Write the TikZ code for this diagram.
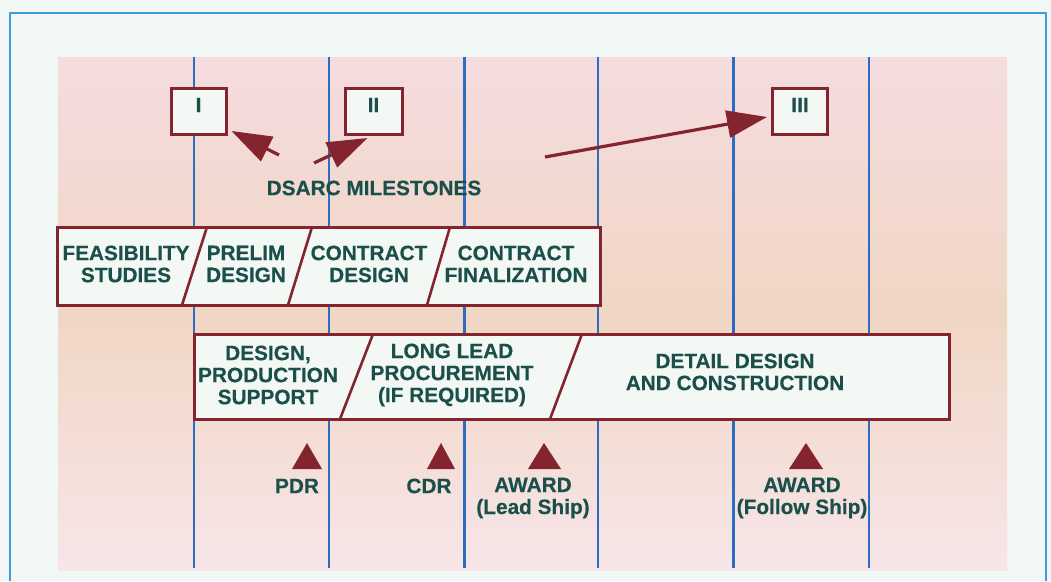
\documentclass[tikz,border=0pt]{standalone}
\usepackage{fontspec}
\setmainfont{Liberation Sans}
\newfontfamily\heavy[BoldFont={Liberation Sans Bold},BoldFeatures={FakeBold=0.4}]{Liberation Sans}
\usetikzlibrary{arrows.meta}
\definecolor{bgwhite}{HTML}{F1F7F5}
\definecolor{framecol}{HTML}{3A9FD6}
\definecolor{pinktop}{HTML}{F5DCDF}
\definecolor{pinkmid}{HTML}{F0D6C4}
\definecolor{pinkbot}{HTML}{F7E5E8}
\definecolor{lineblue}{HTML}{2E6CC0}
\definecolor{maroon}{HTML}{84242E}
\definecolor{txt}{HTML}{1B4F4A}
\definecolor{boxfill}{HTML}{F3F8F5}
\begin{document}
\begin{tikzpicture}[x=1pt,y=-1pt,
  lbl/.style={font=\heavy\bfseries\fontsize{20.8}{22}\selectfont, text=txt, align=center, inner sep=0pt},
  vline/.style={draw=lineblue, line width=2.2pt},
  bar/.style={draw=maroon, line width=3pt, fill=boxfill, inner sep=0pt},
  divider/.style={draw=maroon, line width=2.6pt},
  mbox/.style={draw=maroon, line width=3pt, fill=boxfill, minimum width=55pt, minimum height=46pt, inner sep=0pt},
  arr/.style={draw=maroon, line width=3.2pt, -{Triangle[length=40pt,width=27pt]}},
  tri/.style={fill=maroon}]
\useasboundingbox (0,0) rectangle (1051,581);
\fill[bgwhite] (0,0) rectangle (1051,581);
\draw[framecol, line width=2pt] (10,581) -- (10,12.5) -- (1046,12.5) -- (1046,581);
\shade[top color=pinktop, bottom color=pinkbot, middle color=pinkmid] (58,57) rectangle (1007,570);
\foreach \x in {194,329,464.5,598,733.5,869} \draw[vline] (\x,57) -- (\x,568);
% milestone boxes
\node[mbox] (mI) at (198.5,111) {};
\node[mbox, minimum width=57pt] (mII) at (373.5,111) {};
\node[mbox] (mIII) at (800,111) {};
\node[lbl] (nI) at ([yshift=6pt]mI.center) {I};
\node[lbl] (nII) at ([yshift=6pt]mII.center) {II};
\node[lbl] (nIII) at ([yshift=6pt]mIII.center) {III};
% arrows
\coordinate (a1s) at (279,155);
\coordinate (a2s) at (314,163);
\coordinate (a3s) at (545,157);
\draw[arr] (a1s) -- ([xshift=4pt,yshift=4.5pt]mI.south east);
\draw[arr] (a2s) -- ([xshift=-6pt,yshift=-2.5pt]mII.south);
\draw[arr] (a3s) -- ([xshift=-4pt,yshift=-6pt]mIII.west);
\node[lbl] (dsarc) at (374,188) {DSARC MILESTONES};
% row 1
\node[bar, minimum width=543pt, minimum height=78pt] (row1) at (328.5,266) {};
\draw[divider] (207,227) -- (182,305);
\draw[divider] (312,227) -- (288,305);
\draw[divider] (450,227) -- (427,305);
\node[lbl] (feas) at (126,264) {FEASIBILITY\\STUDIES};
\node[lbl] (prelim) at (246,264) {PRELIM\\DESIGN};
\node[lbl] (cdes) at (369,264) {CONTRACT\\DESIGN};
\node[lbl] (cfin) at (516,264) {CONTRACT\\FINALIZATION};
% row 2
\node[bar, minimum width=755pt, minimum height=85pt] (row2) at (571.5,376.5) {};
\draw[divider] (373,334) -- (340,419);
\draw[divider] (582,334) -- (550,419);
\node[lbl] (dps) at (268,375) {DESIGN,\\PRODUCTION\\SUPPORT};
\node[lbl] (llp) at (452,375) {LONG LEAD\\PROCUREMENT\\(IF REQUIRED)};
\node[lbl] (ddc) at (735,372) {DETAIL DESIGN\\AND CONSTRUCTION};
% bottom milestones
\fill[tri] (292,469) -- (307,443) -- (322,469) -- cycle;
\fill[tri] (427,469) -- (441,443) -- (455,469) -- cycle;
\fill[tri] (528,469) -- (544,443) -- (561,469) -- cycle;
\fill[tri] (789,469) -- (806,443) -- (823,469) -- cycle;
\node[lbl] (pdr) at (297,486) {PDR};
\node[lbl] (cdr) at (429,486) {CDR};
\node[lbl] (awl) at (533,498) {AWARD\\(Lead Ship)};
\node[lbl] (awf) at (802,498) {AWARD\\(Follow Ship)};
\end{tikzpicture}
\end{document}
